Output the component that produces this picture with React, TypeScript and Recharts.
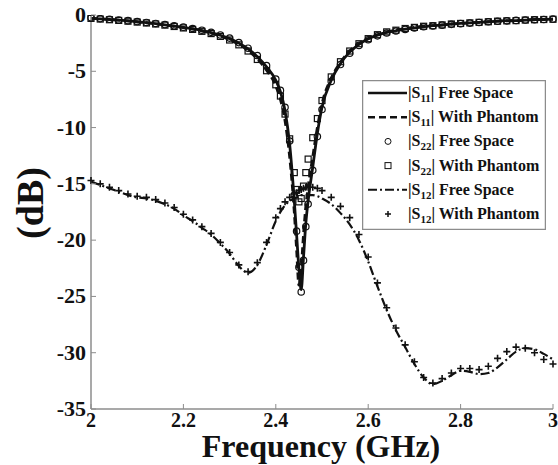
import React from 'react';
import { LineChart, Line, XAxis, YAxis } from 'recharts';

// frequency grid in GHz (denser around the resonance)
const freq = [
  2.0, 2.02, 2.04, 2.06, 2.08, 2.1, 2.12, 2.14, 2.16, 2.18, 2.2, 2.22, 2.24, 2.26, 2.28, 2.3, 2.32, 2.34, 2.36, 2.38, 2.4,
  2.41, 2.42, 2.43, 2.44,
  2.445, 2.45, 2.455, 2.46, 2.465, 2.47,
  2.48, 2.49, 2.5,
  2.52, 2.54, 2.56, 2.58, 2.6, 2.62, 2.64, 2.66, 2.68, 2.7, 2.72, 2.74, 2.76, 2.78, 2.8, 2.82, 2.84, 2.86, 2.88, 2.9, 2.92, 2.94, 2.96, 2.98, 3.0,
];

const s11Free = [
  -0.3, -0.35, -0.4, -0.45, -0.52, -0.6, -0.68, -0.77, -0.87, -0.98, -1.1, -1.22, -1.38, -1.57, -1.8, -2.1, -2.5, -3.0, -3.7, -4.6, -5.8,
  -6.8, -8.5, -11.5, -16.5,
  -19.5, -22.5, -24.4, -21.5, -18.5, -16.5,
  -13.5, -10.5, -8.2,
  -5.8, -4.3, -3.3, -2.6, -2.1, -1.8, -1.55, -1.4, -1.25, -1.15, -1.05, -0.95, -0.9, -0.8, -0.75, -0.7, -0.65, -0.6, -0.55, -0.5, -0.5, -0.45, -0.4, -0.4, -0.35,
];

const s11Phantom = [
  -0.3, -0.35, -0.4, -0.46, -0.53, -0.61, -0.69, -0.78, -0.88, -1.0, -1.12, -1.25, -1.42, -1.62, -1.87, -2.2, -2.62, -3.15, -3.9, -4.9, -6.3,
  -7.5, -9.4, -12.6, -17.5,
  -20.8, -24.0, -22.5, -19.5, -17.0, -15.3,
  -12.6, -10.0, -7.9,
  -5.6, -4.2, -3.2, -2.55, -2.1, -1.75, -1.5, -1.35, -1.2, -1.1, -1.0, -0.95, -0.88, -0.8, -0.75, -0.7, -0.65, -0.6, -0.55, -0.52, -0.5, -0.45, -0.42, -0.4, -0.38,
];

const s22Free = [
  -0.25, -0.32, -0.38, -0.44, -0.5, -0.58, -0.66, -0.75, -0.85, -0.96, -1.08, -1.2, -1.35, -1.54, -1.77, -2.05, -2.45, -2.95, -3.6, -4.5, -5.7,
  -6.7, -8.2, -11.2, -16.0,
  -19.2, -22.4, -24.6, -21.8, -18.8, -16.8,
  -13.8, -10.8, -8.4,
  -5.9, -4.4, -3.4, -2.7, -2.2, -1.85, -1.6, -1.42, -1.28, -1.15, -1.05, -0.98, -0.9, -0.83, -0.77, -0.72, -0.66, -0.6, -0.56, -0.52, -0.48, -0.45, -0.42, -0.4, -0.36,
];

const s22Phantom = [
  -0.3, -0.36, -0.42, -0.48, -0.55, -0.63, -0.71, -0.8, -0.9, -1.02, -1.15, -1.28, -1.45, -1.65, -1.9, -2.22, -2.65, -3.2, -3.95, -4.95, -6.2,
  -7.2, -8.8, -11.0, -14.0,
  -15.5, -16.6, -16.3, -15.2, -14.0, -12.8,
  -10.9, -9.2, -7.6,
  -5.5, -4.15, -3.2, -2.55, -2.1, -1.75, -1.5, -1.35, -1.2, -1.1, -1.0, -0.95, -0.88, -0.8, -0.75, -0.7, -0.65, -0.6, -0.55, -0.52, -0.5, -0.45, -0.42, -0.4, -0.38,
];

const s12Free = [
  -14.8, -15.1, -15.4, -15.7, -16.0, -16.2, -16.3, -16.5, -16.8, -17.2, -17.8, -18.3, -18.9, -19.5, -20.3, -21.2, -22.3, -22.9, -22.2, -20.4, -18.3,
  -17.5, -16.9, -16.5, -16.3,
  -16.2, -16.1, -16.0, -16.0, -16.0, -16.0,
  -16.0, -16.1, -16.3,
  -16.8, -17.6, -18.6, -20.0, -21.9, -24.1, -26.2, -28.0, -29.5, -31.0, -32.2, -32.8, -32.5, -32.0, -31.6, -31.7, -31.9, -31.8, -31.3, -30.6, -29.9, -29.6, -29.7, -30.1, -30.6,
];

const s12Phantom = [
  -14.7, -15.0, -15.3, -15.6, -15.9, -16.1, -16.2, -16.4, -16.7, -17.1, -17.7, -18.2, -18.8, -19.4, -20.2, -21.1, -22.2, -22.8, -22.0, -20.2, -18.0,
  -17.2, -16.6, -16.2, -15.9,
  -15.8, -15.6, -15.5, -15.4, -15.3, -15.3,
  -15.3, -15.4, -15.6,
  -16.2, -17.0, -18.0, -19.5, -21.5, -23.8, -26.0, -27.8, -29.3, -30.8, -32.2, -32.7, -32.3, -31.8, -31.4, -31.4, -31.5, -31.2, -30.5, -29.9, -29.5, -29.6, -30.0, -30.6, -31.0,
];

const xTicks = [2, 2.2, 2.4, 2.6, 2.8, 3];
const yTicks = [0, -5, -10, -15, -20, -25, -30, -35];

const legendItems = [
  { port: '11', label: 'Free Space', icon: 'solid' },
  { port: '11', label: 'With Phantom', icon: 'dashed' },
  { port: '22', label: 'Free Space', icon: 'circle' },
  { port: '22', label: 'With Phantom', icon: 'square' },
  { port: '12', label: 'Free Space', icon: 'dashdot' },
  { port: '12', label: 'With Phantom', icon: 'plus' },
];

const data = freq.map((f, i) => ({
  f,
  s11Free: s11Free[i],
  s11Phantom: s11Phantom[i],
  s22Free: s22Free[i],
  s22Phantom: s22Phantom[i],
  s12Free: s12Free[i],
  s12Phantom: s12Phantom[i],
}));

const INK = '#111';
const GRAY = '#8c8c8c';
const SERIF = "'Liberation Serif', 'Times New Roman', serif";

// MATLAB-style ticks: marks point into the plot box
const leftTick = (p: any) => (
  <g key={`yl-${p.index}`}>
    <line x1={p.x} x2={p.x + 5} y1={p.y} y2={p.y} stroke={GRAY} />
    <text x={p.x - 5} y={p.y + 7} textAnchor="end" fontFamily={SERIF} fontWeight="bold" fontSize="22px" fill={INK}>
      {p.payload.value}
    </text>
  </g>
);

const rightTick = (p: any) => (
  <line key={`yr-${p.index}`} x1={p.x} x2={p.x - 5} y1={p.y} y2={p.y} stroke={GRAY} />
);

const bottomTick = (p: any) => (
  <g key={`xb-${p.index}`}>
    <line x1={p.x} x2={p.x} y1={p.y} y2={p.y - 5} stroke={GRAY} />
    <text x={p.x} y={p.y + 18} textAnchor="middle" fontFamily={SERIF} fontWeight="bold" fontSize="20px" fill={INK}>
      {p.payload.value}
    </text>
  </g>
);

const topTick = (p: any) => <line key={`xt-${p.index}`} x1={p.x} x2={p.x} y1={p.y} y2={p.y + 5} stroke={GRAY} />;

const XTitle = ({ viewBox }: any) => (
  <text
    x={viewBox.x + viewBox.width / 2 - 1}
    y={viewBox.y + 48}
    textAnchor="middle"
    fontFamily={SERIF}
    fontWeight="bold"
    fontSize="32px"
    fill={INK}
  >
    Frequency (GHz)
  </text>
);

const YTitle = ({ viewBox }: any) => {
  const cx = 30;
  const cy = viewBox.y + viewBox.height / 2 - 9;
  return (
    <text
      x={cx}
      y={cy}
      transform={`rotate(-90 ${cx} ${cy})`}
      textAnchor="middle"
      dominantBaseline="central"
      fontFamily={SERIF}
      fontWeight="bold"
      fontSize="38px"
      fill={INK}
    >
      (dB)
    </text>
  );
};

const circleDot = (p: any) => (
  <circle key={`c-${p.index}`} cx={p.cx} cy={p.cy} r={3.2} fill="none" stroke={INK} strokeWidth={1.2} />
);
const squareDot = (p: any) => (
  <rect key={`s-${p.index}`} x={p.cx - 3} y={p.cy - 3} width={6} height={6} fill="none" stroke={INK} strokeWidth={1.2} />
);
const plusDot = (p: any) => (
  <path
    key={`p-${p.index}`}
    d={`M${p.cx - 3.5},${p.cy}H${p.cx + 3.5}M${p.cx},${p.cy - 3.5}V${p.cy + 3.5}`}
    stroke={INK}
    strokeWidth={1.6}
  />
);

function LegendIcon({ kind, y }: { kind: string; y: number }) {
  if (kind === 'solid') return <line x1={6} x2={45} y1={y} y2={y} stroke={INK} strokeWidth={2.5} />;
  if (kind === 'dashed') return <line x1={6} x2={45} y1={y} y2={y} stroke={INK} strokeWidth={2.5} strokeDasharray="7 4" />;
  if (kind === 'dashdot')
    return <line x1={6} x2={45} y1={y} y2={y} stroke={INK} strokeWidth={2} strokeDasharray="9 3 2 3" />;
  if (kind === 'circle') return <circle cx={26} cy={y} r={3} fill="none" stroke={INK} />;
  if (kind === 'square') return <rect x={23} y={y - 3} width={6} height={6} fill="none" stroke={INK} />;
  return <path d={`M23,${y}H29M26,${y - 3}V${y + 3}`} stroke={INK} strokeWidth={1.5} />;
}

function LegendBox() {
  return (
    <svg width={184} height={150} style={{ position: 'absolute', left: 362, top: 80 }}>
      <rect x={0.5} y={0.5} width={183} height={149} fill="#fff" stroke={GRAY} strokeWidth={1.5} />
      {legendItems.map((it, i) => {
        const y = 13 + i * 24.2;
        return (
          <g key={i}>
            <LegendIcon kind={it.icon} y={y} />
            <text x={46} y={y + 5} fontFamily={SERIF} fontWeight="bold" fontSize="16px" fill={INK}>
              <tspan>|S</tspan>
              <tspan fontSize="11px" dy={4}>{it.port}</tspan>
              <tspan dy={-4}>| {it.label}</tspan>
            </text>
          </g>
        );
      })}
    </svg>
  );
}

export default function App() {
  return (
    <div style={{ position: 'absolute', left: 0, top: 0, width: 558, height: 465, background: '#fff' }}>
      <LineChart width={558} height={465} data={data} margin={{ top: 15, right: 5, bottom: 0, left: 0 }}>
        <XAxis
          dataKey="f"
          type="number"
          domain={[2, 3]}
          ticks={xTicks}
          height={56}
          tickSize={0}
          tickMargin={0}
          tickLine={false}
          axisLine={{ stroke: GRAY, strokeWidth: 1.5 }}
          tick={bottomTick}
          label={<XTitle />}
        />
        <XAxis
          xAxisId="top"
          orientation="top"
          dataKey="f"
          type="number"
          domain={[2, 3]}
          ticks={xTicks}
          height={0}
          tickSize={0}
          tickMargin={0}
          tickLine={false}
          axisLine={{ stroke: GRAY, strokeWidth: 1.5 }}
          tick={topTick}
        />
        <YAxis
          type="number"
          domain={[-35, 0]}
          ticks={yTicks}
          width={91}
          tickSize={0}
          tickMargin={0}
          tickLine={false}
          allowDataOverflow
          axisLine={{ stroke: GRAY, strokeWidth: 1.5 }}
          tick={leftTick}
          label={<YTitle />}
        />
        <YAxis
          yAxisId="right"
          orientation="right"
          type="number"
          domain={[-35, 0]}
          ticks={yTicks}
          width={0}
          tickSize={0}
          tickMargin={0}
          tickLine={false}
          axisLine={{ stroke: GRAY, strokeWidth: 1.5 }}
          tick={rightTick}
        />
        <Line dataKey="s22Free" type="monotone" stroke="none" dot={circleDot} isAnimationActive={false} />
        <Line dataKey="s22Phantom" type="monotone" stroke="none" dot={squareDot} isAnimationActive={false} />
        <Line dataKey="s12Phantom" type="monotone" stroke="none" dot={plusDot} isAnimationActive={false} />
        <Line dataKey="s12Free" type="monotone" stroke={INK} strokeWidth={2.2} strokeDasharray="9 3 2 3" dot={false} isAnimationActive={false} />
        <Line dataKey="s11Phantom" type="monotone" stroke={INK} strokeWidth={2.8} strokeDasharray="7 4" dot={false} isAnimationActive={false} />
        <Line dataKey="s11Free" type="monotone" stroke={INK} strokeWidth={2.8} dot={false} isAnimationActive={false} />
      </LineChart>
      <LegendBox />
    </div>
  );
}
